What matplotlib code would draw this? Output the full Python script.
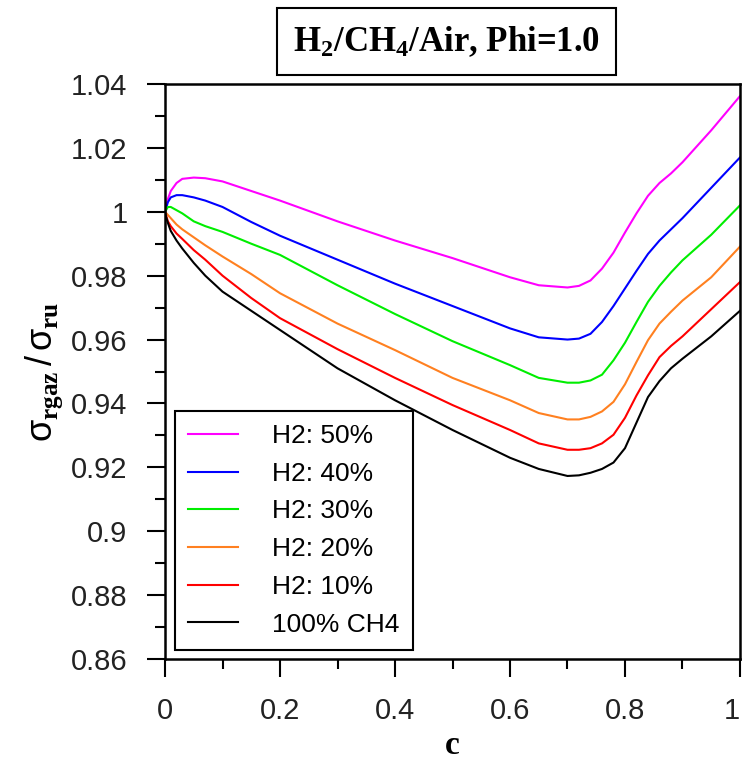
import matplotlib
matplotlib.use('Agg')
from matplotlib import pyplot as plt
from matplotlib import transforms as mtransforms

# progress variable c
c = [0, 0.005, 0.01, 0.02, 0.03, 0.05, 0.07, 0.1, 0.15, 0.2, 0.3, 0.4, 0.5, 0.6,
     0.65, 0.7, 0.72, 0.74, 0.76, 0.78, 0.8, 0.82, 0.84, 0.86, 0.88, 0.9, 0.95, 1.0]

h2_50 = [1.000, 1.004, 1.0065, 1.009, 1.0103, 1.0107, 1.0105, 1.0095, 1.0065, 1.0035, 0.997, 0.991,
         0.9855, 0.9795, 0.977, 0.9763, 0.9768, 0.9785, 0.9822, 0.9872, 0.9935, 0.9995, 1.005,
         1.009, 1.012, 1.0155, 1.0255, 1.0362]
h2_40 = [1.000, 1.003, 1.0045, 1.0052, 1.0052, 1.0045, 1.0035, 1.0015, 0.9968, 0.9925, 0.985, 0.9775,
         0.9705, 0.9635, 0.9607, 0.960, 0.9603, 0.9618, 0.9655, 0.9705, 0.976, 0.9815, 0.9868,
         0.991, 0.9945, 0.998, 1.0075, 1.017]
h2_30 = [1.000, 1.0015, 1.0015, 1.0005, 0.9995, 0.997, 0.9955, 0.9937, 0.990, 0.9865, 0.977, 0.968,
         0.9595, 0.952, 0.948, 0.9465, 0.9465, 0.9472, 0.949, 0.9535, 0.959, 0.9655, 0.9718,
         0.9768, 0.981, 0.9848, 0.9928, 1.002]
h2_20 = [1.000, 0.999, 0.998, 0.996, 0.9945, 0.992, 0.9895, 0.986, 0.9805, 0.9745, 0.965, 0.9567,
         0.948, 0.941, 0.937, 0.935, 0.935, 0.9358, 0.9375, 0.9405, 0.946, 0.953, 0.9598,
         0.965, 0.9687, 0.9722, 0.9795, 0.9891]
h2_10 = [1.000, 0.997, 0.9955, 0.9932, 0.9915, 0.988, 0.985, 0.980, 0.973, 0.9667, 0.957, 0.948,
         0.9395, 0.9317, 0.9275, 0.9255, 0.9255, 0.926, 0.9275, 0.9302, 0.9355, 0.9425, 0.9488,
         0.9545, 0.958, 0.961, 0.9695, 0.978]
ch4 = [0.9995, 0.9965, 0.994, 0.991, 0.9885, 0.984, 0.980, 0.975, 0.969, 0.963, 0.951, 0.941,
       0.9317, 0.923, 0.9195, 0.9173, 0.9175, 0.9183, 0.9195, 0.9215, 0.926, 0.934, 0.942,
       0.947, 0.951, 0.954, 0.961, 0.969]

labels = ['H2: 50%', 'H2: 40%', 'H2: 30%', 'H2: 20%', 'H2: 10%', '100% CH4']
series = [h2_50, h2_40, h2_30, h2_20, h2_10, ch4]
colors = ['#ff00ff', '#0000ff', '#00ee00', '#ff8020', '#ff0000', '#000000']

x_ticks = [0, 0.2, 0.4, 0.6, 0.8, 1.0]
x_ticklabels = ['0', '0.2', '0.4', '0.6', '0.8', '1']
x_minor = [0.1, 0.3, 0.5, 0.7, 0.9]
y_ticks = [0.86, 0.88, 0.9, 0.92, 0.94, 0.96, 0.98, 1.0, 1.02, 1.04]
y_ticklabels = ['0.86', '0.88', '0.9', '0.92', '0.94', '0.96', '0.98', '1', '1.02', '1.04']
y_minor = [0.87, 0.89, 0.91, 0.93, 0.95, 0.97, 0.99, 1.01, 1.03]

plt.rcParams['font.family'] = 'Liberation Sans'
plt.rcParams['mathtext.fontset'] = 'custom'
plt.rcParams['mathtext.rm'] = 'Liberation Sans'
plt.rcParams['mathtext.it'] = 'Liberation Sans'
plt.rcParams['mathtext.bf'] = 'Liberation Serif:bold'

fig = plt.figure(figsize=(7.44, 7.69), dpi=100)
ax = fig.add_axes([0.2218, 0.143, 0.7728, 0.7478])

for y, lab, col in zip(series, labels, colors):
    ax.plot(c, y, color=col, lw=1.5, label=lab)

ax.set_xlim(0, 1)
ax.set_ylim(0.86, 1.04)
ax.set_xticks(x_ticks)
ax.set_xticklabels(x_ticklabels)
ax.set_xticks(x_minor, minor=True)
ax.set_yticks(y_ticks)
ax.set_yticklabels(y_ticklabels)
ax.set_yticks(y_minor, minor=True)
ax.tick_params(which='major', direction='out', length=13, width=1.5, labelsize=21,
               pad=14, colors='black', labelcolor='#222222')
ax.tick_params(which='minor', direction='out', length=7, width=1.5)
for s in ax.spines.values():
    s.set_linewidth(1.8)

# keep the last x label inside the figure
last = ax.get_xticklabels()[-1]
last.set_transform(last.get_transform() + mtransforms.ScaledTranslation(-6 / 72, 0, fig.dpi_scale_trans))

ax.set_xlabel('c', fontfamily='Liberation Serif', fontweight='bold', fontsize=24, labelpad=4)
ax.set_ylabel(r'$\sigma_{\mathbf{rgaz}}\,/\,\sigma_{\mathbf{ru}}$', fontsize=26, labelpad=4)

fig.text(0.6, 0.946, r'H$_\mathbf{2}$/CH$_\mathbf{4}$/Air, Phi=1.0', ha='center', va='center',
         fontfamily='Liberation Serif', fontweight='bold', fontsize=25,
         bbox=dict(boxstyle='square,pad=0.45', facecolor='white', edgecolor='black', lw=1.5))

leg = ax.legend(loc='lower left', bbox_to_anchor=(0.017, 0.016), borderaxespad=0,
                fontsize=19, handlelength=1.9, labelspacing=0.52, handletextpad=1.3,
                fancybox=False, framealpha=1, edgecolor='black', borderpad=0.5)
leg.get_frame().set_linewidth(1.5)

plt.savefig('out.png', dpi=100)
plt.close()
